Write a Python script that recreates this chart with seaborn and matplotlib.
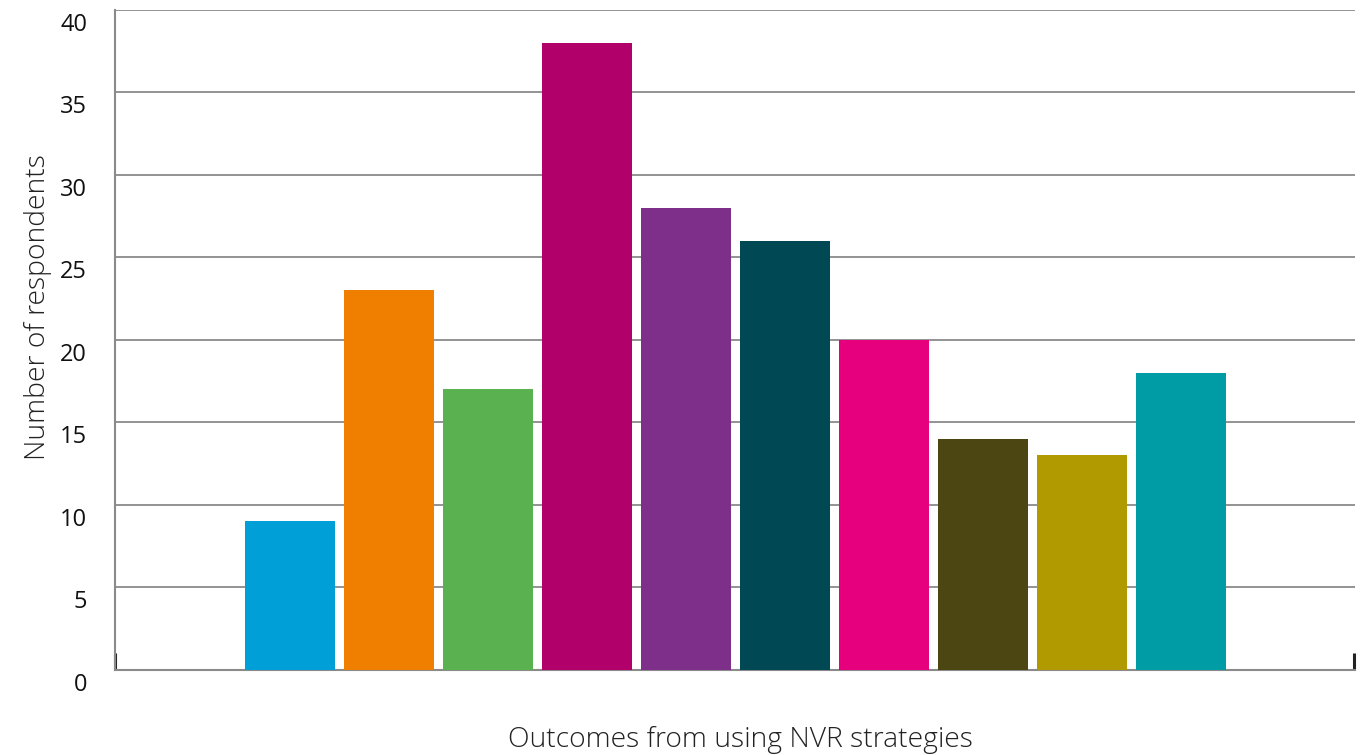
import matplotlib
matplotlib.use("Agg")
import matplotlib.pyplot as plt
import matplotlib.transforms as mtransforms
import seaborn as sns
import pandas as pd

# Responses per outcome category
outcomes = [f"Outcome {i}" for i in range(1, 11)]
respondents = [9, 23, 17, 38, 28, 26, 20, 14, 13, 18]
colors = ["#009FD8", "#F07F00", "#5AB14F", "#B1006A", "#7E2F8A",
          "#004853", "#E6007E", "#4B4612", "#B19A00", "#009CA6"]

y_ticks = [0, 5, 10, 15, 20, 25, 30, 35, 40]

df = pd.DataFrame({"outcome": outcomes, "count": respondents})

sns.set_theme(style="white")
plt.rcParams["font.family"] = ["Open Sans", "DejaVu Sans"]

fig = plt.figure(figsize=(13.62, 7.55), dpi=100)
ax = fig.add_axes([0.0844, 0.1126, 0.9105, 0.8742])

sns.barplot(data=df, x="outcome", y="count", hue="outcome",
            palette=colors, legend=False, width=0.909, saturation=1,
            linewidth=0, edgecolor="none", ax=ax, zorder=3)

ax.set_xlim(-1.768, 10.758)
ax.set_ylim(0, 40)
ax.set_yticks(y_ticks)
ax.yaxis.grid(True, color="#8a8a8a", linewidth=1.3, zorder=0)
ax.set_axisbelow(True)

for side in ["top", "right"]:
    ax.spines[side].set_visible(False)
for side in ["left", "bottom"]:
    ax.spines[side].set_color("#8a8a8a")
    ax.spines[side].set_linewidth(1.5)

# small inward end ticks on the category axis
ax.set_xticks([-1.765, 10.75])
ax.set_xticklabels([])
ax.tick_params(axis="x", bottom=True, direction="in", length=12, width=2.2,
               color="#222222")
ax.tick_params(axis="y", left=False, length=0, pad=20, labelsize=17,
               labelcolor="#111111")

offset = mtransforms.ScaledTranslation(0, -12 / 100, fig.dpi_scale_trans)
for lbl in ax.get_yticklabels():
    lbl.set_transform(lbl.get_transform() + offset)

ax.set_xlabel("Outcomes from using NVR strategies", fontsize=20.3,
              fontweight=300, color="#222222", labelpad=37)
ax.set_ylabel("Number of respondents", fontsize=20.3,
              fontweight=300, color="#222222", labelpad=6)
ax.xaxis.label.set_x(0.504)
ax.yaxis.label.set_y(0.55)

fig.savefig("out.png", dpi=100)
